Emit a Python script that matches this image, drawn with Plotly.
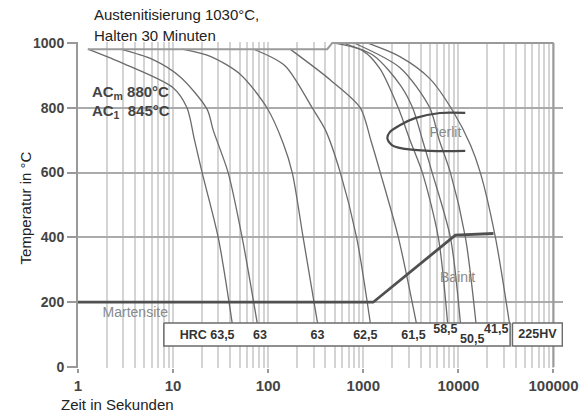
import plotly.graph_objects as go

# ---------------- data ----------------
# cooling curves: time in s, temperature in °C
curve_A_t = [1.27, 3.1, 10, 14, 16.8, 20.2, 29.8, 41.8]
curve_A_T = [981, 935, 862, 800, 700, 600, 400, 136]
curve_B_t = [2.8, 6, 11.9, 22.8, 26.4, 37.9, 53.2, 76.6]
curve_B_T = [981, 950, 895, 795, 731, 600, 400, 136]
curve_C_t = [12.5, 25, 51, 97, 144, 179, 233, 330]
curve_C_T = [981, 958, 903, 800, 690, 600, 400, 136]
curve_D_t = [70, 150, 290, 400, 573, 850, 1185]
curve_D_T = [981, 930, 800, 731, 600, 400, 136]
curve_E_t = [170, 450, 930, 1200, 1510, 2336, 3610]
curve_E_T = [981, 886, 800, 700, 600, 400, 136]
curve_F_t = [480, 1000, 1500, 2330, 3100, 4180, 6150, 7700]
curve_F_T = [1000, 975, 920, 800, 700, 600, 400, 136]
curve_G_t = [600, 1300, 2450, 3300, 4200, 5300, 8240, 10500]
curve_G_T = [1000, 960, 870, 800, 700, 600, 400, 136]
curve_H_t = [800, 2450, 5000, 6300, 8240, 11850, 15300]
curve_H_T = [1000, 923, 800, 700, 600, 400, 136]
curve_I_t = [1100, 2450, 5000, 8880, 13400, 17000, 24500, 34400]
curve_I_T = [1000, 957, 890, 787, 685, 600, 400, 136]

# austenitising / start line
aust_t = [1.27, 418, 472, 100000]
aust_T = [981, 981, 1000, 1000]

# martensite start + bainite line
ms_t = [1, 1270, 9300, 23400]
ms_T = [200, 200, 407, 412]

# pearlite nose
perlit_t = [11800, 6400, 3500, 2450, 1900, 1790, 2000, 2750, 5070, 11800]
perlit_T = [784, 784, 768, 747, 725, 707, 685, 673, 667, 667]

# hardness labels
hardness = ["HRC 63,5", "63", "63", "62,5", "61,5", "58,5", "50,5", "41,5", "225HV"]
hard_t = [22.8, 82, 330, 1050, 3370, 7300, 14000, 25000, 67800]
hard_T = [96, 96, 96, 96, 96, 114, 83, 114, 99]

x_ticks = [1, 10, 100, 1000, 10000, 100000]
x_ticktext = ["1", "10", "100", "1000", "10000", "100000"]
y_ticks = [0, 200, 400, 600, 800, 1000]
y_ticktext = ["0", "200", "400", "600", "800", "1000"]
y_grid = [200, 400, 600, 800]

# ---------------- figure ----------------
SANS = "Liberation Sans, Arial, sans-serif"

fig = go.Figure()

curves = [(curve_A_t, curve_A_T), (curve_B_t, curve_B_T), (curve_C_t, curve_C_T),
          (curve_D_t, curve_D_T), (curve_E_t, curve_E_T), (curve_F_t, curve_F_T),
          (curve_G_t, curve_G_T), (curve_H_t, curve_H_T), (curve_I_t, curve_I_T)]
for t, T in curves:
    fig.add_trace(go.Scatter(x=t, y=T, mode="lines",
                             line=dict(color="#6b6b6b", width=1.3, shape="spline", smoothing=0.8),
                             hoverinfo="skip"))

fig.add_trace(go.Scatter(x=aust_t, y=aust_T, mode="lines",
                         line=dict(color="#9a9a9a", width=2), hoverinfo="skip"))
# right frame
fig.add_trace(go.Scatter(x=[100000, 100000], y=[0, 1000], mode="lines",
                         line=dict(color="#9a9a9a", width=2), hoverinfo="skip"))

fig.add_trace(go.Scatter(x=perlit_t, y=perlit_T, mode="lines",
                         line=dict(color="#4a4a4a", width=2.2, shape="spline", smoothing=1.0),
                         hoverinfo="skip"))

# hardness boxes
fig.add_trace(go.Scatter(x=[8, 35000, 35000, 8, 8], y=[136, 136, 65, 65, 136], mode="lines",
                         fill="toself", fillcolor="white",
                         line=dict(color="#6b6b6b", width=1.5), hoverinfo="skip"))
fig.add_trace(go.Scatter(x=[37000, 124000, 124000, 37000, 37000], y=[136, 136, 65, 65, 136],
                         mode="lines", fill="toself", fillcolor="white",
                         line=dict(color="#6b6b6b", width=1.5), hoverinfo="skip"))

fig.add_trace(go.Scatter(x=hard_t, y=hard_T, mode="text", text=[f"<b>{h}</b>" for h in hardness],
                         textposition="middle center", cliponaxis=False,
                         textfont=dict(family=SANS, size=12.5, color="#333"), hoverinfo="skip"))

# phase labels
fig.add_trace(go.Scatter(x=[7300, 9800, 4.0], y=[722, 272, 164], mode="text",
                         text=["Perlit", "Bainit", "Martensite"], textposition="middle center",
                         textfont=dict(family=SANS, size=14, color="#8a8a8a"), hoverinfo="skip"))
fig.add_trace(go.Scatter(x=[1.4, 1.4], y=[846, 787], mode="text",
                         text=["<b>AC<sub>m</sub> 880°C</b>", "<b>AC<sub>1</sub>  845°C</b>"],
                         textposition="middle right", cliponaxis=False,
                         textfont=dict(family=SANS, size=15, color="#444"), hoverinfo="skip"))

# martensite start line on overlay axis (carries the horizontal grid)
fig.add_trace(go.Scatter(x=ms_t, y=ms_T, mode="lines", yaxis="y2",
                         line=dict(color="#505050", width=2.8), hoverinfo="skip"))

minor_vals = [k * 10 ** e for e in range(0, 5) for k in range(2, 10)]

fig.update_layout(
    width=580, height=416,
    margin=dict(l=78, r=17, t=42, b=48),
    plot_bgcolor="white", paper_bgcolor="white",
    showlegend=False,
    font=dict(family=SANS, color="#222"),
    xaxis=dict(type="log", range=[0, 5.1], tickvals=x_ticks, ticktext=x_ticktext,
               ticks="outside", ticklen=4, tickcolor="#999", tickwidth=1.5,
               showline=False, zeroline=False, ticklabeloverflow="allow", automargin=False,
               showgrid=True, gridcolor="#d4d4d4", gridwidth=1.5,
               tickfont=dict(family=SANS, size=15, color="#444", weight="bold"),
               minor=dict(tickvals=minor_vals, showgrid=True, gridcolor="#d4d4d4",
                          gridwidth=1.5, ticks="")),
    yaxis=dict(range=[-3, 1003], tickvals=y_ticks, ticktext=y_ticktext, automargin=False,
               ticks="outside", ticklen=9, tickcolor="#999", tickwidth=2,
               showline=True, linecolor="#999", linewidth=2,
               showgrid=False, zeroline=False,
               tickfont=dict(family=SANS, size=14, color="#444", weight="bold")),
    yaxis2=dict(range=[-3, 1003], overlaying="y", side="left", tickvals=y_grid, automargin=False,
                showticklabels=False, ticks="", showline=False, zeroline=False,
                showgrid=True, gridcolor="#ababab", gridwidth=2),
    annotations=[
        dict(text="Austenitisierung 1030°C,", xref="paper", yref="paper", x=0.029, y=1.083,
             xanchor="left", yanchor="middle", showarrow=False,
             font=dict(family=SANS, size=15, color="#222")),
        dict(text="Halten 30 Minuten", xref="paper", yref="paper", x=0.029, y=1.021,
             xanchor="left", yanchor="middle", showarrow=False,
             font=dict(family=SANS, size=15, color="#222")),
        dict(text="Zeit in Sekunden", xref="paper", yref="paper", x=-0.039, y=-0.113,
             xanchor="left", yanchor="middle", showarrow=False,
             font=dict(family=SANS, size=15, color="#222")),
        dict(text="Temperatur in °C", xref="paper", yref="paper", x=-0.109, y=0.49,
             xanchor="center", yanchor="middle", textangle=-90, showarrow=False,
             font=dict(family=SANS, size=15, color="#222")),
    ],
)

fig.write_html("out.html")
